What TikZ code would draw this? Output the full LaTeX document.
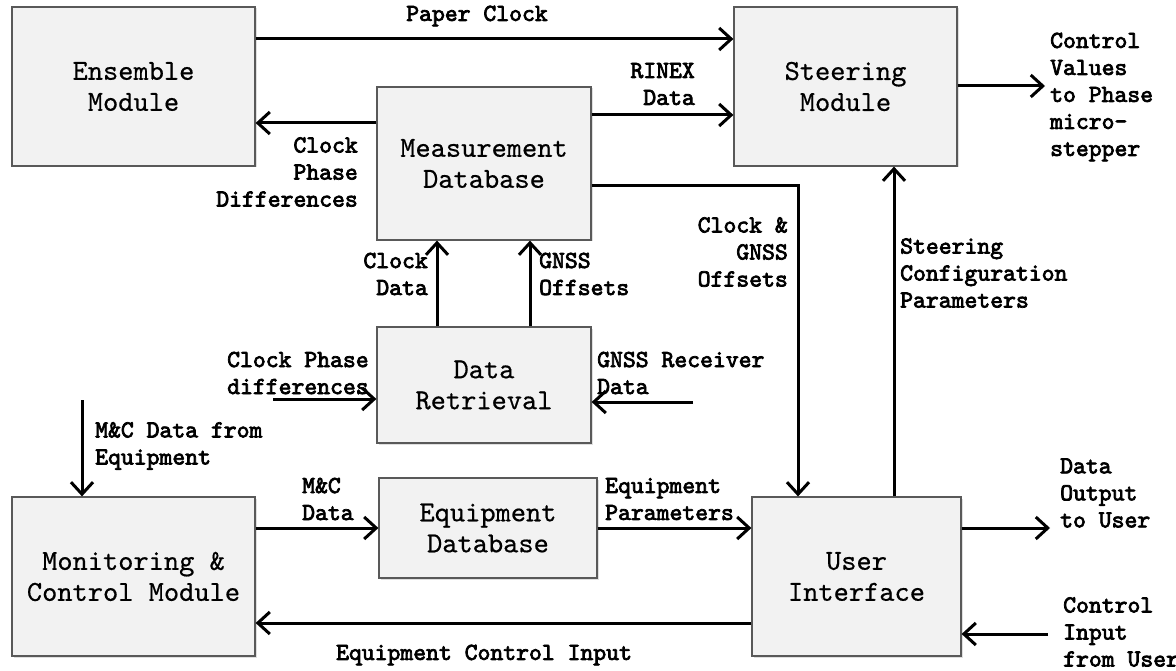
\documentclass[tikz,border=0pt]{standalone}
\usepackage{fontspec}
\newfontfamily\labfont{lmmono10-regular.otf}[FakeBold=3]
\newfontfamily\boxfont{lmmono10-regular.otf}[FakeBold=0.5]
\usetikzlibrary{arrows.meta,shadows}
\begin{document}
\begin{tikzpicture}[x=1pt,y=-1pt,
  box/.style={draw=gray!70!black, line width=1.2pt, fill=gray!10, rectangle,
    align=center, inner sep=0pt, font=\boxfont\fontsize{29}{31}\selectfont,
    drop shadow={opacity=0.25, shadow xshift=1.5pt, shadow yshift=-1.5pt}},
  lbl/.style={inner sep=0pt, font=\labfont\fontsize{24.5}{27}\selectfont},
  arr/.style={line width=3pt, -{Straight Barb[length=12pt,width=22pt]}}]

\useasboundingbox (0,0) rectangle (1176,671);

% blocks
\node[box, minimum width=243pt, minimum height=159pt] (ens) at (133.5,86.5) {Ensemble\\Module};
\node[box, minimum width=223pt, minimum height=159pt] (steer) at (845.5,86.5) {Steering\\Module};
\node[box, minimum width=214pt, minimum height=153pt] (mdb) at (484,163.5) {Measurement\\Database};
\node[box, minimum width=214pt, minimum height=116pt] (dr) at (484,385) {Data\\Retrieval};
\node[box, minimum width=243pt, minimum height=159pt] (mcm) at (133.5,576.5) {Monitoring \&\\Control Module};
\node[box, minimum width=218pt, minimum height=100pt] (edb) at (488,528) {Equipment\\Database};
\node[box, minimum width=209pt, minimum height=159pt] (ui) at (856.5,576.5) {User\\Interface};

% reference levels and free ends
\coordinate (yPC) at (0,39);
\coordinate (yCPD) at (0,123);
\coordinate (yRX) at (0,115);
\coordinate (yCG) at (0,186);
\coordinate (xCG) at (798,0);
\coordinate (xSC) at (894,0);
\coordinate (xCD) at (437,0);
\coordinate (xGO) at (530,0);
\coordinate (yMC) at (0,528);
\coordinate (yECI) at (0,623);
\coordinate (ctlOut) at (1045,86);
\coordinate (cpdIn) at (273,399);
\coordinate (gnssIn) at (693,402);
\coordinate (mcIn) at (82,400);
\coordinate (dataOut) at (1050,528);
\coordinate (userIn) at (1048,634);

% connectors
\draw[arr] (ens.east |- yPC) -- (steer.west |- yPC);
\draw[arr] (mdb.west |- yCPD) -- (ens.east |- yCPD);
\draw[arr] (mdb.east |- yRX) -- (steer.west |- yRX);
\draw[arr] (mdb.east |- yCG) -| (ui.north -| xCG);
\draw[arr] (ui.north -| xSC) -- (steer.south -| xSC);
\draw[arr] (steer.east |- ctlOut) -- (ctlOut);
\draw[arr] (dr.north -| xCD) -- (mdb.south -| xCD);
\draw[arr] (dr.north -| xGO) -- (mdb.south -| xGO);
\draw[arr] (cpdIn) -- (dr.west |- cpdIn);
\draw[arr] (gnssIn) -- (dr.east |- gnssIn);
\draw[arr] (mcIn) -- (mcm.north -| mcIn);
\draw[arr] (mcm.east |- yMC) -- (edb.west |- yMC);
\draw[arr] (edb.east |- yMC) -- (ui.west |- yMC);
\draw[arr] (ui.west |- yECI) -- (mcm.east |- yECI);
\draw[arr] (ui.east |- dataOut) -- (dataOut);
\draw[arr] (userIn) -- (ui.east |- userIn);

% labels
\node[lbl] (lPC) at (477,16) {Paper Clock};
\node[lbl, align=right, anchor=east] (lRX) at (695,84) {RINEX\\Data};
\node[lbl, align=right, anchor=east] (lCPD) at (358,172) {Clock\\Phase\\Differences};
\node[lbl, align=right, anchor=east] (lCG) at (788,252) {Clock \&\\GNSS\\Offsets};
\node[lbl, align=left, anchor=west] (lSC) at (900,273) {Steering\\Configuration\\Parameters};
\node[lbl, align=left, anchor=west] (lCV) at (1050,97) {Control\\Values\\to Phase\\micro-\\stepper};
\node[lbl, align=right, anchor=east] (lCD) at (428,274) {Clock\\Data};
\node[lbl, align=left, anchor=west] (lGO) at (539,274) {GNSS\\Offsets};
\node[lbl, align=left, anchor=west] (lCPI) at (227,373) {Clock Phase\\differences};
\node[lbl, align=left, anchor=west] (lGR) at (597,373) {GNSS Receiver\\Data};
\node[lbl, align=left, anchor=west] (lMCE) at (95,446) {M\&C Data from\\Equipment};
\node[lbl, align=left, anchor=west] (lMC) at (302,499) {M\&C\\Data};
\node[lbl, align=left, anchor=west] (lEP) at (605,499) {Equipment\\Parameters};
\node[lbl] (lECI) at (484,655) {Equipment Control Input};
\node[lbl, align=left, anchor=west] (lDO) at (1060,493) {Data\\Output\\to User};
\node[lbl, align=left, anchor=west] (lCI) at (1063,632) {Control\\Input\\from User};
\end{tikzpicture}
\end{document}
